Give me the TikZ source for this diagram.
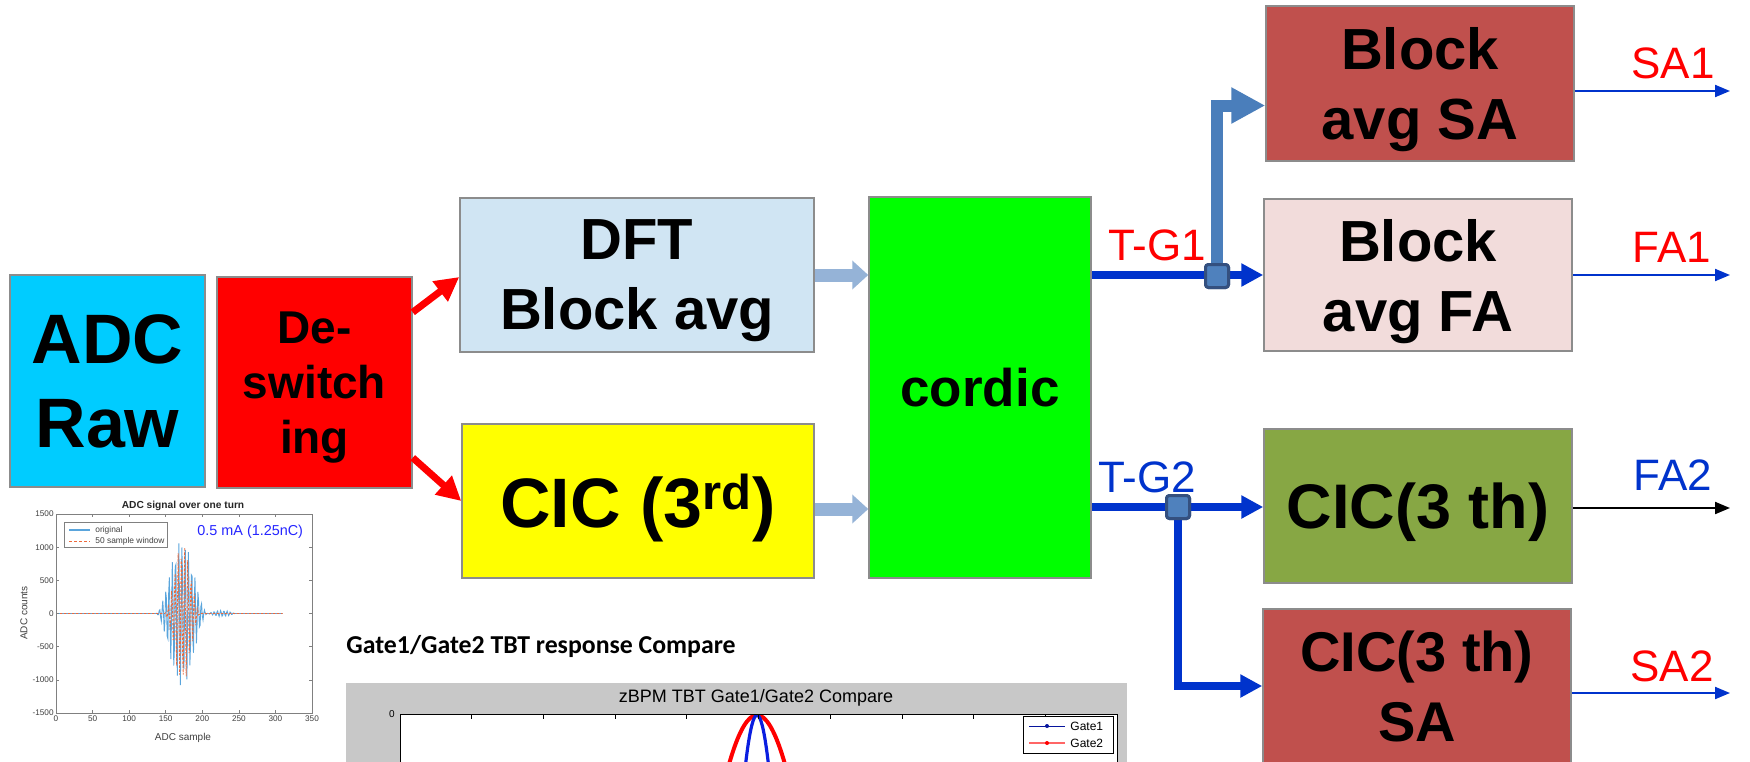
\documentclass[tikz,border=0pt]{standalone}
\usepackage{fontspec}
\setmainfont{Liberation Sans}
\newfontfamily\calibrifont{Carlito}
\usetikzlibrary{arrows.meta, positioning, calc}
\definecolor{adccyan}{HTML}{00CCFF}
\definecolor{deswred}{HTML}{FF0000}
\definecolor{dftblue}{HTML}{D0E5F3}
\definecolor{cicyellow}{HTML}{FFFF00}
\definecolor{cordicgreen}{HTML}{00FF00}
\definecolor{sabrown}{HTML}{C0504D}
\definecolor{fapink}{HTML}{F2DCDB}
\definecolor{cicolive}{HTML}{87A744}
\definecolor{boxgray}{HTML}{8C8C8C}
\definecolor{paleblue}{HTML}{95B3D7}
\definecolor{strongblue}{HTML}{0033CC}
\definecolor{steelblue}{HTML}{4A7EBB}
\definecolor{jfill}{HTML}{4F81BD}
\definecolor{jborder}{HTML}{34507F}
\definecolor{sigblue}{HTML}{5AA5DC}
\definecolor{sigorange}{HTML}{EE6A3C}
\definecolor{axgray}{HTML}{808080}
\definecolor{axtext}{HTML}{404040}
\definecolor{panelgray}{HTML}{C8C8C8}
\definecolor{gateblue}{HTML}{0A1EE0}
\newcommand\bxfont[2]{\fontsize{#1}{#2}\selectfont\bfseries}
% last line without descender, so the text sits like the slide text
\newcommand\flatdp[1]{\raisebox{0pt}[\height][0pt]{#1}}

\begin{document}
\begin{tikzpicture}[x=0.5pt, y=-0.5pt,
    blk/.style={draw=boxgray, line width=0.75pt, inner sep=0pt, align=center},
    junction/.style={draw=jborder, fill=jfill, line width=1.5pt, rounded corners=1.5pt, minimum size=11.5pt, inner sep=0pt},
    redarrow/.style={deswred, line width=3.5pt, -{Triangle[length=12pt, width=12pt]}},
    palearrow/.style={paleblue, line width=6.5pt, -{Triangle[length=8pt, width=14pt]}},
    tgarrow/.style={strongblue, line width=4pt, -{Triangle[length=11pt, width=11pt]}},
    outarrow/.style={strongblue, line width=1pt, -{Triangle[length=7.5pt, width=6pt]}},
    outlbl/.style={anchor=base, font=\fontsize{22}{26}\selectfont},
    ticklbl/.style={text=axtext, font=\fontsize{4.1}{5}\selectfont, inner sep=1pt}]
    \useasboundingbox (0,0) rectangle (1750,761);
    \clip (0,0) rectangle (1750,761);
    \fill[white] (0,0) rectangle (1750,761);

    % Front end
    \node[blk, fill=adccyan, minimum width=97.5pt, minimum height=106pt, font=\bxfont{35pt}{42pt}] (adc) at (107.5,381) {ADC\\Raw};
    \node[blk, fill=deswred, minimum width=97.5pt, minimum height=105.5pt, font=\bxfont{23pt}{27.5pt}] (desw) at (314.5,382.5) {De-\\switch\\\flatdp{ing}};

    % Filters
    \node[blk, fill=dftblue, minimum width=177pt, minimum height=77pt, font=\bxfont{29pt}{35pt}] (dft) at (637,275) {DFT\\\flatdp{Block avg}};
    \node[blk, fill=cicyellow, minimum width=176pt, minimum height=77pt, font=\bxfont{35pt}{42pt}] (cic) at (638,501) {\flatdp{CIC (3\textsuperscript{rd})}};
    \node[blk, fill=cordicgreen, minimum width=111pt, minimum height=190.5pt, font=\bxfont{26.5pt}{32pt}] (cordic) at (980,387.5) {cordic};

    % Output blocks
    \node[blk, fill=sabrown, minimum width=154pt, minimum height=77.5pt, font=\bxfont{29pt}{35pt}] (bsa) at (1420,83.5) {Block\\\flatdp{avg SA}};
    \node[blk, fill=fapink, minimum width=154pt, minimum height=76pt, font=\bxfont{29pt}{35pt}] (bfa) at (1418,275) {Block\\\flatdp{avg FA}};
    \node[blk, fill=cicolive, minimum width=154pt, minimum height=77pt, font=\bxfont{31.5pt}{38pt}] (cicg) at (1418,506) {\flatdp{CIC(3 th)}};
    \node[blk, fill=sabrown, minimum width=154pt, minimum height=77pt, font=\bxfont{28pt}{35pt}] (cicsa) at (1417,686) {CIC(3 th)\\SA};

    % Connections
    \draw[redarrow] ([yshift=-18pt]desw.north east) -- ([yshift=-1pt]dft.west);
    \draw[redarrow] ([yshift=15.5pt]desw.south east) -- (cic.west);
    \draw[palearrow] (dft.east) -- (dft.east -| cordic.west);
    \draw[palearrow] ([yshift=-4pt]cic.east) -- ([yshift=-4pt]cic.east -| cordic.west);

    \node[junction] (j1) at (1217,276) {};
    \node[junction] (j2) at (1178,507) {};
    \draw[tgarrow] (cordic.east |- bfa.west) -- (bfa.west);
    \draw[tgarrow] (cordic.east |- j2) -- (j2 -| cicg.west);
    \draw[steelblue, line width=6pt, -{Triangle[length=17pt, width=17pt]}] (j1.center) |- ([yshift=-11pt]bsa.west);
    \draw[tgarrow] (j2.center) |- (cicsa.west);
    \node[junction] at (j1) {};
    \node[junction] at (j2) {};
    \node[outlbl, text=deswred] (tg1) at (1157,260) {T-G1};
    \node[outlbl, text=strongblue] (tg2) at (1147,492) {T-G2};

    % Outputs
    \coordinate (sa1) at (1730,91);
    \coordinate (fa1) at (1730,275);
    \coordinate (fa2) at (1730,508);
    \coordinate (sa2) at (1730,693);
    \draw[outarrow] (bsa.east |- sa1) -- (sa1);
    \draw[outarrow] (bfa.east |- fa1) -- (fa1);
    \draw[outarrow, black] (cicg.east |- fa2) -- (fa2);
    \draw[outarrow] (cicsa.east |- sa2) -- (sa2);
    \node[outlbl, text=deswred] (sa1lbl) at (1673,78) {SA1};
    \node[outlbl, text=deswred] (fa1lbl) at (1672,262) {FA1};
    \node[outlbl, text=strongblue] (fa2lbl) at (1673,490) {FA2};
    \node[outlbl, text=deswred] (sa2lbl) at (1672,681) {SA2};

    % ADC signal plot
    \node[font=\fontsize{5.1}{6}\selectfont\bfseries, text=black!85] (adctitle) at (183,506) {ADC signal over one turn};
    \begin{scope}[shift={(56,613.5)}, x=0.3657pt, y=0.03316pt]
      \draw[sigblue, line width=0.45pt] (0,0) -- (136,0)
        -- plot[domain=136:208, samples=73] (\x, {1100*cos(2.5*(\x-172))^2*sin(81.8*(\x-136))})
        -- plot[domain=209:245, samples=37] (\x, {45*sin(180*(\x-208)/37)*sin(81.8*(\x-136))}) -- (310,0);
      \draw[sigorange, line width=0.4pt, dash pattern=on 1.2pt off 0.8pt] (0,0) -- (148,0)
        -- plot[domain=148:198, samples=51] (\x, {1050*cos(3.6*(\x-173))^2*sin(81.8*(\x-136)+70)}) -- (310,0);
      \draw[axgray, line width=0.4pt] (0,-1500) rectangle (350,1500);
      \foreach \t in {0,50,...,350} {
        \draw[axgray, line width=0.3pt] (\t,-1500) -- ++(0,40) (\t,1500) -- ++(0,-40);
        \node[ticklbl, below] (xt\t) at (\t,-1500) {\t};
      }
      \foreach \t in {-1500,-1000,...,1500} {
        \draw[axgray, line width=0.3pt] (0,\t) -- ++(4,0) (350,\t) -- ++(-4,0);
        \node[ticklbl, left] (yt\t) at (0,\t) {\t};
      }
    \end{scope}
    \node[text=axtext, font=\fontsize{5}{6}\selectfont] (adcxlbl) at (183,738) {ADC sample};
    \node[text=axtext, font=\fontsize{5}{6}\selectfont, rotate=90] (adcylbl) at (24,613) {ADC counts};
    \draw[axgray, line width=0.4pt, fill=white] (64,522) rectangle (167,547);
    \draw[sigblue, line width=0.8pt] (69,530) -- (90,530);
    \draw[sigorange, line width=0.5pt, dash pattern=on 1.5pt off 1pt] (69,541) -- (90,541);
    \node[anchor=west, inner sep=0pt, text=axtext, font=\fontsize{4.2}{5}\selectfont] (leg1) at (95,530) {original};
    \node[anchor=west, inner sep=0pt, text=axtext, font=\fontsize{4.2}{5}\selectfont] (leg2) at (95,541) {50 sample window};
    \node[anchor=west, inner sep=0pt, text=blue!85!white, font=\fontsize{7.2}{8}\selectfont] (current) at (197,532) {0.5 mA (1.25nC)};

    % Gate compare plot
    \node[anchor=base west, inner sep=0pt, font=\calibrifont\fontsize{12.9}{15}\selectfont\bfseries] (gatehead) at (346,653) {Gate1/Gate2 TBT response Compare};
    \fill[panelgray] (346,683) rectangle (1127,780);
    \fill[white] (400,714) rectangle (1117,780);
    \node[anchor=base, inner sep=0pt, font=\fontsize{9}{11}\selectfont] (gatetitle) at (756,702) {zBPM TBT Gate1/Gate2 Compare};
    \node[anchor=east, inner sep=1pt, font=\fontsize{5}{6}\selectfont] (gatezero) at (397,714) {0};
    \begin{scope}
      \clip (400,714) rectangle (1117,780);
      \draw[red, line width=2pt] (720.3,800) parabola bend (757,715) (793.7,800);
      \draw[gateblue, line width=1.6pt] (742,800) parabola bend (757,715) (772,800);
    \end{scope}
    \draw[black, line width=0.5pt] (400,780) |- (1117,714) -- (1117,780);
    \foreach \i in {1,...,9}
      \draw[black, line width=0.4pt] (400+71.7*\i,714) -- ++(0,5);
    \draw[black, line width=0.4pt, fill=white] (1023,716) rectangle (1113,753);
    \draw[gateblue!70!black, line width=0.5pt] (1029,726) -- (1065,726);
    \fill[gateblue!70!black] (1047,726) circle (1pt);
    \draw[red!60!white, line width=0.8pt] (1029,743) -- (1065,743);
    \fill[red] (1047,743) circle (1pt);
    \node[anchor=west, inner sep=0pt, font=\fontsize{6}{7}\selectfont] (gate1) at (1070,726) {Gate1};
    \node[anchor=west, inner sep=0pt, font=\fontsize{6}{7}\selectfont] (gate2) at (1070,743) {Gate2};
\end{tikzpicture}
\end{document}
